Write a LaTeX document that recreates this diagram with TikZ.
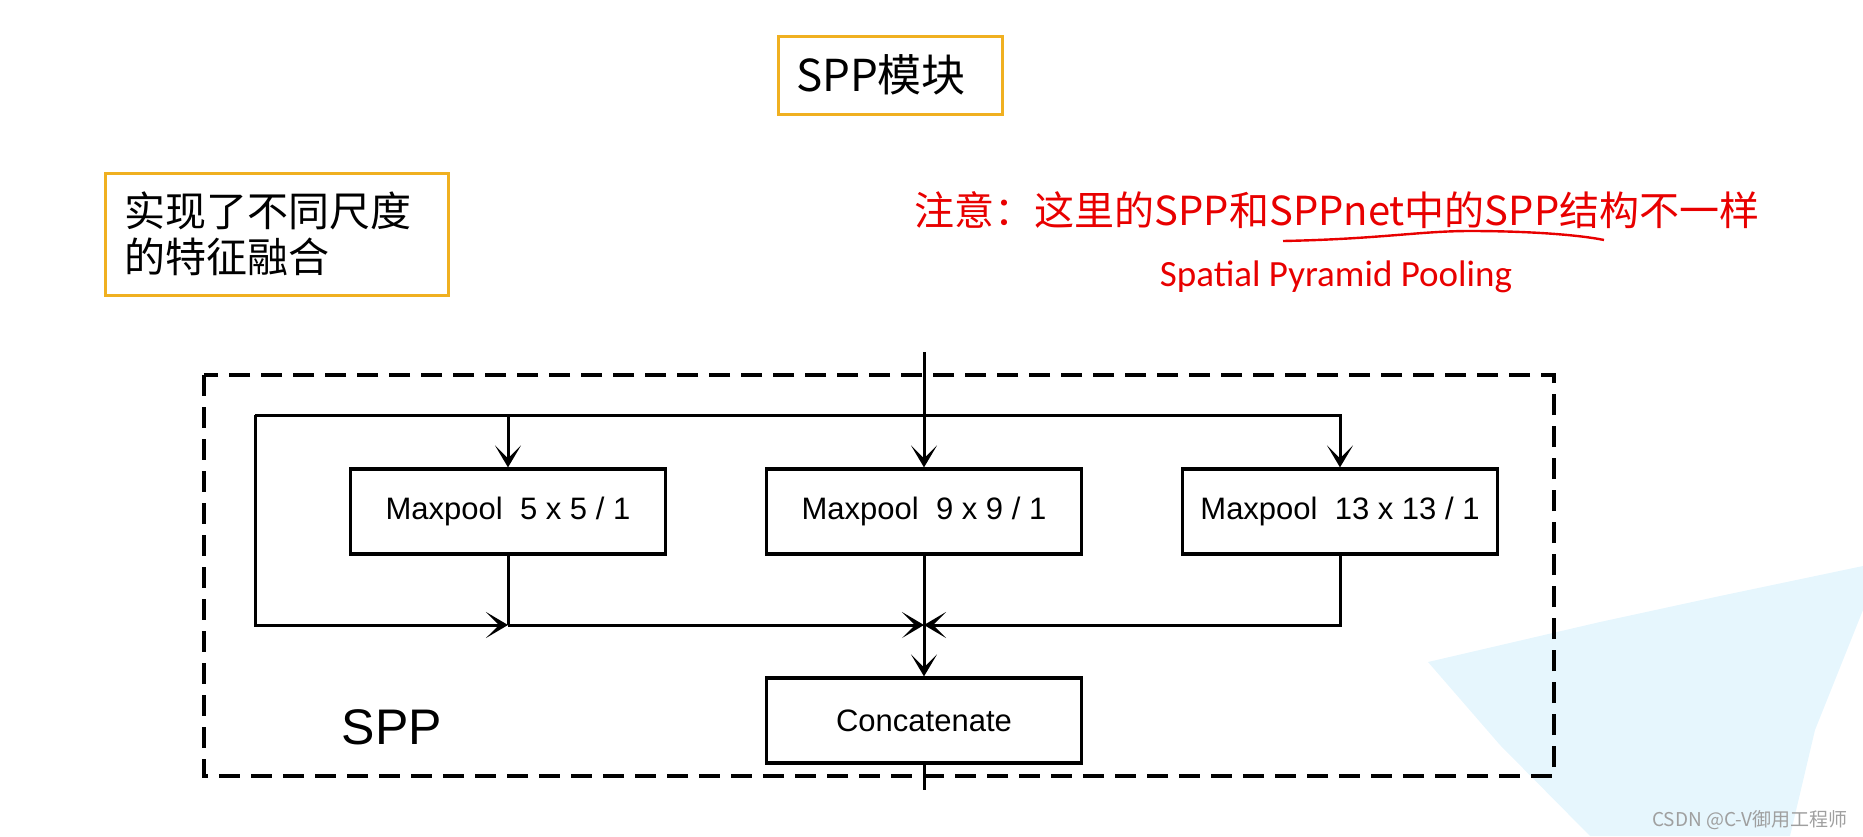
\documentclass[tikz,border=0pt]{standalone}
\usepackage{fontspec}
\setmainfont{Liberation Sans}
\newfontfamily\cjk{Noto Sans CJK SC}
\newfontfamily\cali{Carlito}
\usetikzlibrary{positioning, arrows.meta}
\definecolor{boxyellow}{RGB}{240,176,32}
\definecolor{notered}{RGB}{232,0,0}
\definecolor{paleblue}{RGB}{230,246,253}

\begin{document}
\begin{tikzpicture}[x=0.5pt, y=-0.5pt, node distance=208pt, on grid, >={Stealth[length=11pt, width=13pt, inset=6.5pt]}]
      \tikzstyle{pool}=[draw, line width=1.6pt, minimum width=157.5pt, minimum height=42.5pt, inner sep=0pt, font=\fontsize{15.5}{18}\selectfont]
      \tikzstyle{label box}=[draw=boxyellow, line width=1.5pt, inner ysep=0pt, align=left]
      \tikzstyle{wire}=[line width=1.5pt]

      \useasboundingbox (0,0) rectangle (1863,836);
      \fill[paleblue] (1428,662) -- (1600,622) -- (1720,596) -- (1863,566) -- (1863,610)
        -- (1815,730) -- (1790,836) -- (1590,836) -- (1500,745) -- cycle;

      % Nodes
      \node[label box, text width=94pt, inner xsep=9pt, minimum height=39pt, font=\cjk\fontsize{22}{26}\selectfont] (title) at (890,75) {SPP模块};
      \node[label box, text width=152pt, inner xsep=9.75pt, minimum height=61pt, font=\cjk\fontsize{20.5}{23}\selectfont] (aim) at (276.5,234) {实现了不同尺度\\的特征融合};
      \node[text=notered, font=\cjk\fontsize{20}{24}\selectfont] (note) at (1337,210) {注意：这里的SPP和SPPnet中的SPP结构不一样};
      \node[text=notered, font=\cali\fontsize{18.5}{22}\selectfont] (fullname) at (1336,277) {Spatial Pyramid Pooling};
      \draw[notered, line width=1.2pt] (1283,241) .. controls (1380,239) and (1420,231) .. (1470,231)
        .. controls (1530,231) and (1580,235) .. (1604,240);

      \draw[line width=1.75pt, dash pattern=on 10.5pt off 5.5pt] (204,375) rectangle (1554,776);

      \node[pool]                    (pool9)  at (924,511.5) {Maxpool\ \ 9 x 9 / 1};
      \node[pool, left=of pool9]     (pool5)  {Maxpool\ \ 5 x 5 / 1};
      \node[pool, right=of pool9]    (pool13) {Maxpool\ \ 13 x 13 / 1};
      \node[pool, below=104.5pt of pool9] (concat) {Concatenate};
      \node[font=\fontsize{25}{30}\selectfont] (spp) at (392,727) {SPP};
      \node[text=gray!75, font=\cjk\fontsize{9.5}{11}\selectfont] (mark) at (1750,820) {CSDN @C-V御用工程师};

      \coordinate (in)    at (924,352);
      \coordinate (out)   at (924,790);
      \coordinate (tl)    at (255,415);
      \coordinate (bl)    at (255,625);
      \coordinate (merge) at (924,625);

      % Edges
      \draw[wire, ->] (in) -- (pool9);
      \draw[wire, ->] (tl) -| (pool13);
      \draw[wire, ->] (pool5 |- tl) -- (pool5);
      \draw[wire, ->] (tl) -- (bl) -- (pool5 |- bl);
      \draw[wire]     (pool5) -- (pool5 |- bl);
      \draw[wire, ->] (pool5 |- bl) -- (merge);
      \draw[wire, ->] (pool13) |- (merge);
      \draw[wire]     (pool9) -- (merge);
      \draw[wire, ->] (merge) -- (concat);
      \draw[wire]     (concat) -- (out);
\end{tikzpicture}
\end{document}
